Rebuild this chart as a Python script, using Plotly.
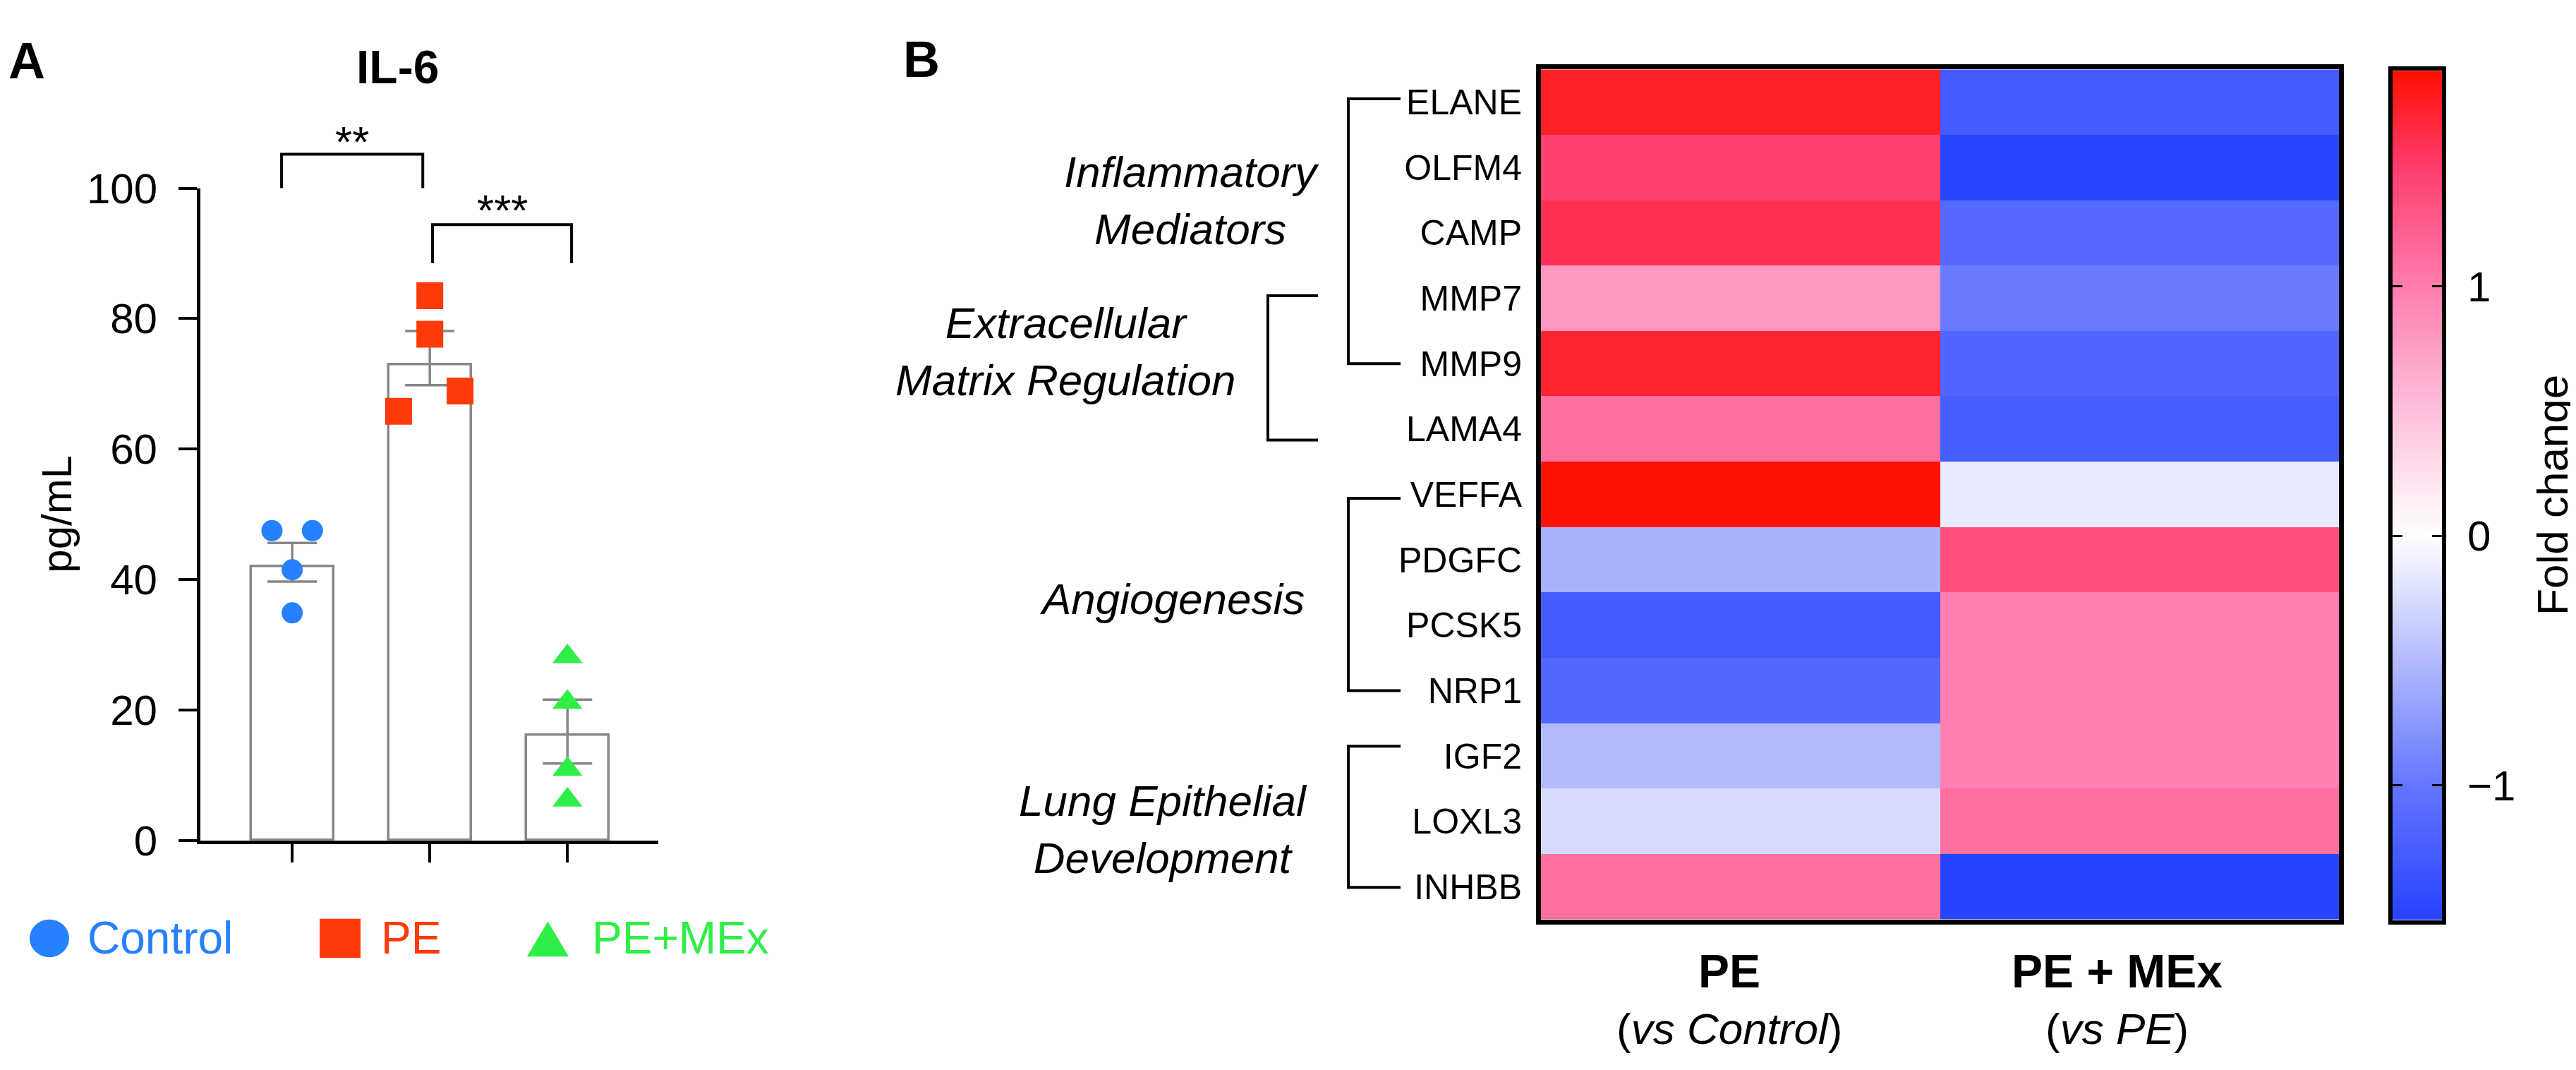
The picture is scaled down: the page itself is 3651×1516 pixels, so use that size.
import plotly.graph_objects as go

W, H = 3651, 1516
FONT = "Liberation Sans, Arial, Helvetica, sans-serif"

# ---------------- Panel A data (IL-6) ----------------
groups = ["Control", "PE", "PE+MEx"]
group_colors = ["#2680ff", "#ff3a0a", "#30ee48"]
group_symbols = ["circle", "square", "triangle-up"]
group_marker_sizes = [30, 38, 37]
bar_means = [42.0, 72.9, 16.1]
err_plus = [3.6, 5.2, 5.5]
err_minus = [2.3, 3.1, 4.3]
control_vals = [47.5, 47.5, 41.5, 34.9]
pe_vals = [83.5, 77.6, 65.8, 68.9]
pemex_vals = [28.2, 21.2, 10.9, 6.2]
dot_offsets = [[-0.147, 0.147, 0.0, 0.0], [0.0, 0.0, -0.227, 0.22], [0.0, 0.0, 0.0, 0.0]]
il6_ticks = [0, 20, 40, 60, 80, 100]
il6_range = [0, 100]
# (x_left, x_right, leg bottom, bracket top, star y, label)
sig_brackets = [(-0.077, 0.949, 100.0, 105.2, 107.2, "**"),
                (1.02, 2.03, 88.5, 94.4, 96.6, "***")]

# ---------------- Panel B data (fold change heatmap) ----------------
genes = ["ELANE", "OLFM4", "CAMP", "MMP7", "MMP9", "LAMA4", "VEFFA",
         "PDGFC", "PCSK5", "NRP1", "IGF2", "LOXL3", "INHBB"]
fc_pe = [1.72, 1.45, 1.58, 0.80, 1.70, 1.10, 1.85, -0.56, -1.28, -1.15, -0.50, -0.26, 1.10]
fc_pemex = [-1.28, -1.50, -1.12, -0.97, -1.17, -1.25, -0.15, 1.35, 0.98, 0.98, 0.97, 1.10, -1.52]
columns = ["PE", "PE + MEx"]
column_sub = ["vs Control", "vs PE"]
fc_ticks = [-1, 0, 1]
fc_ticktext = ["\u22121", "0", "1"]
fc_range = [-1.54, 1.865]
# gene groups: (label, first row, last row)
gene_groups = [("Inflammatory<br>Mediators", 0, 4),
               ("Extracellular<br>Matrix Regulation", 3, 5),
               ("Angiogenesis", 6, 9),
               ("Lung Epithelial<br>Development", 10, 12)]

# colour scale anchors (value -> colour)
cs_values = [-1.54, -1.0, -0.5, 0.0, 0.5, 1.0, 1.5, 1.865]
cs_colors = ["rgb(38,66,255)", "rgb(100,118,255)", "rgb(178,186,253)", "rgb(255,255,255)",
             "rgb(255,192,220)", "rgb(255,125,175)", "rgb(255,58,105)", "rgb(255,15,0)"]
colorscale = [[(v - fc_range[0]) / (fc_range[1] - fc_range[0]), c] for v, c in zip(cs_values, cs_colors)]


def px(x):
    return x / W


def py(y):
    return 1 - y / H


fig = go.Figure()

# ---- Panel A: bars + error bars ----
fig.add_trace(go.Bar(
    x=list(range(len(groups))), y=bar_means, width=0.6,
    marker=dict(color="white", line=dict(color="#878787", width=3.5)),
    error_y=dict(type="data", symmetric=False, array=err_plus, arrayminus=err_minus,
                 color="#878787", thickness=3.5, width=35),
    xaxis="x", yaxis="y", showlegend=False, hoverinfo="skip"))

for gi, vals in enumerate([control_vals, pe_vals, pemex_vals]):
    fig.add_trace(go.Scatter(
        x=[gi + o for o in dot_offsets[gi]], y=vals, mode="markers",
        marker=dict(symbol=group_symbols[gi], size=group_marker_sizes[gi],
                    color=group_colors[gi], line=dict(width=0)),
        xaxis="x", yaxis="y", showlegend=False, cliponaxis=False, hoverinfo="skip"))

# ---- Panel B: heatmap ----
fig.add_trace(go.Heatmap(
    z=[[a, b] for a, b in zip(fc_pe, fc_pemex)],
    x=list(range(len(columns))), y=list(range(len(genes))),
    colorscale=colorscale, zmin=fc_range[0], zmax=fc_range[1], showscale=False,
    xaxis="x2", yaxis="y2", hoverinfo="skip"))

# ---- colour bar drawn as its own small heatmap axis ----
fig.add_trace(go.Heatmap(
    z=[[fc_range[0], fc_range[0]], [fc_range[1], fc_range[1]]],
    x=[0, 1], y=fc_range, zsmooth="best",
    colorscale=colorscale, zmin=fc_range[0], zmax=fc_range[1], showscale=False,
    xaxis="x3", yaxis="y3", hoverinfo="skip"))

shapes = []
annotations = []

# significance brackets (panel A)
span = il6_range[1] - il6_range[0]
for x0, x1, ylo, yhi, ystar, lab in sig_brackets:
    f_lo = (ylo - il6_range[0]) / span
    f_hi = (yhi - il6_range[0]) / span
    f_star = (ystar - il6_range[0]) / span
    shapes.append(dict(type="path", xref="x", yref="y domain",
                       path=f"M{x0},{f_lo} L{x0},{f_hi} L{x1},{f_hi} L{x1},{f_lo}",
                       line=dict(color="black", width=4)))
    annotations.append(dict(x=(x0 + x1) / 2, y=f_star, xref="x", yref="y domain", text=lab,
                            showarrow=False, font=dict(size=62, color="black"),
                            xanchor="center", yanchor="middle"))

# panel A title & axis title
annotations.append(dict(x=px(555), y=py(57), xref="paper", yref="paper", text="<b>IL-6</b>",
                        showarrow=False, font=dict(size=66, color="black"), xanchor="center", yanchor="middle"))
annotations.append(dict(x=px(73), y=0.5, xref="paper", yref="y domain", text="pg/mL", textangle=-90,
                        showarrow=False, font=dict(size=60, color="black"), xanchor="center", yanchor="middle"))

# panel letters
annotations.append(dict(x=px(2), y=py(47), xref="paper", yref="paper", text="<b>A</b>",
                        showarrow=False, font=dict(size=72, color="black"), xanchor="left", yanchor="middle"))
annotations.append(dict(x=px(1270), y=py(45), xref="paper", yref="paper", text="<b>B</b>",
                        showarrow=False, font=dict(size=72, color="black"), xanchor="left", yanchor="middle"))

# panel A legend (custom, large glyphs)
leg_y = 1348
shapes.append(dict(type="circle", xref="paper", yref="paper", x0=px(34), x1=px(90),
                   y0=py(leg_y + 28), y1=py(leg_y - 28), fillcolor=group_colors[0], line=dict(width=0)))
shapes.append(dict(type="rect", xref="paper", yref="paper", x0=px(445), x1=px(503),
                   y0=py(leg_y + 29), y1=py(leg_y - 29), fillcolor=group_colors[1], line=dict(width=0)))
shapes.append(dict(type="path", xref="paper", yref="paper",
                   path=f"M{px(739)},{py(leg_y + 27)} L{px(798)},{py(leg_y + 27)} L{px(768.5)},{py(leg_y - 25)} Z",
                   fillcolor=group_colors[2], line=dict(width=0)))
for name, col, xl in zip(groups, group_colors, [114, 530, 829]):
    annotations.append(dict(x=px(xl), y=py(leg_y), xref="paper", yref="paper", text=name,
                            showarrow=False, font=dict(size=64, color=col), xanchor="left", yanchor="middle"))

# gene-group brackets (panel B)
bracket_style = {  # label centre x, label row, bracket x, tick end x, top nudge, bottom nudge
    0: (1681, 1.50, 1903, 1977, -0.05, 0.0),
    1: (1502, 3.81, 1789, 1860, -0.04, 0.17),
    2: (1653, 7.60, 1903, 1977, 0.06, 0.0),
    3: (1640, 11.12, 1903, 1977, -0.15, 0.01),
}
for gi, (lab, r0, r1) in enumerate(gene_groups):
    lx, lrow, bx, tx, n0, n1 = bracket_style[gi]
    a, b = r0 + n0, r1 + n1
    shapes.append(dict(type="path", xref="paper", yref="y2",
                       path=f"M{px(tx)},{a} L{px(bx)},{a} L{px(bx)},{b} L{px(tx)},{b}",
                       line=dict(color="black", width=4)))
    annotations.append(dict(x=px(lx), y=lrow, xref="paper", yref="y2", text=f"<i>{lab}</i>",
                            showarrow=False, font=dict(size=62, color="black"),
                            xanchor="center", yanchor="middle", align="center"))

# heatmap column labels
col_shift = [-16, -32]
for ci, (c, s) in enumerate(zip(columns, column_sub)):
    annotations.append(dict(x=ci, y=py(1397), xref="x2", yref="paper", text=f"<b>{c}</b>",
                            showarrow=False, font=dict(size=66, color="black"), xshift=col_shift[ci],
                            xanchor="center", yanchor="middle"))
    annotations.append(dict(x=ci, y=py(1482), xref="x2", yref="paper", text=f"(<i>{s}</i>)",
                            showarrow=False, font=dict(size=62, color="black"), xshift=col_shift[ci],
                            xanchor="center", yanchor="middle"))

# colour-bar title (rotated, right of the tick labels)
annotations.append(dict(x=px(3610), y=0.5, xref="paper", yref="y3 domain", text="Fold change",
                        textangle=-90, showarrow=False, font=dict(size=62, color="black"),
                        xanchor="center", yanchor="middle"))

axis_common = dict(showgrid=False, zeroline=False, fixedrange=True)

fig.update_layout(
    width=W, height=H,
    margin=dict(l=0, r=0, t=0, b=0),
    paper_bgcolor="white", plot_bgcolor="white",
    font=dict(family=FONT, color="black"),
    showlegend=False,
    bargap=0,
    xaxis=dict(domain=[px(276), px(925)], range=[-0.667, 2.66], anchor="y",
               showline=True, linecolor="black", linewidth=5,
               tickvals=list(range(len(groups))), showticklabels=False,
               ticks="outside", ticklen=26, tickwidth=4, tickcolor="black", **axis_common),
    yaxis=dict(domain=[py(1203), py(236)], range=il6_range, anchor="x",
               showline=True, linecolor="black", linewidth=5,
               tickvals=il6_ticks, ticks="outside", ticklen=26, tickwidth=4, tickcolor="black",
               tickfont=dict(size=60), ticklabelstandoff=18, **axis_common),
    xaxis2=dict(domain=[px(2176), px(3307)], range=[-0.5, 1.5], anchor="y2",
                showline=True, mirror=True, linecolor="black", linewidth=7,
                showticklabels=False, ticks="", **axis_common),
    yaxis2=dict(domain=[py(1320), py(60)], range=[len(genes) - 0.5, -0.5], anchor="x2",
                showline=True, mirror=True, linecolor="black", linewidth=7,
                tickvals=list(range(len(genes))), ticktext=genes, ticks="",
                tickfont=dict(size=50), ticklabelstandoff=10, **axis_common),
    xaxis3=dict(domain=[px(3383), px(3453)], range=[-0.5, 1.5], anchor="y3",
                showline=True, mirror=True, linecolor="black", linewidth=6,
                showticklabels=False, ticks="", **axis_common),
    yaxis3=dict(domain=[py(1321), py(62)], range=fc_range, anchor="x3", side="right",
                showline=True, mirror="ticks", linecolor="black", linewidth=6,
                tickvals=fc_ticks, ticktext=fc_ticktext, ticks="inside", ticklen=14,
                tickwidth=3, tickcolor="black", tickfont=dict(size=60), ticklabelstandoff=18,
                **axis_common),
    shapes=shapes,
    annotations=annotations,
)

fig.write_html("out.html")
